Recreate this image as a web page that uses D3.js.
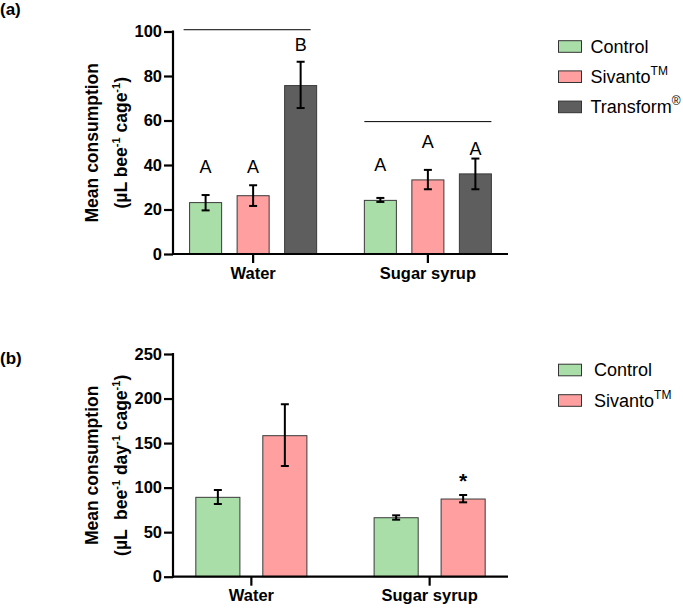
<!DOCTYPE html>
<html><head><meta charset="utf-8">
<script src="https://cdn.jsdelivr.net/npm/d3@7"></script>
<style>
body{margin:0;background:#fff;}
text{font-family:Arial,"Liberation Sans",sans-serif;white-space:pre;}
</style></head>
<body>
<svg id="chart" width="683" height="608"></svg>
<script>
// ---- Panel (a) data ----
const groupsA = ["Water", "Sugar syrup"];
const seriesA = ["Control", "Sivanto", "Transform"];
const meanA = [[23.1, 26.2, 75.7], [24.1, 33.3, 36.0]];
const errLowA = [[19.6, 21.6, 65.6], [23.4, 29.1, 29.1]];
const errHighA = [[26.5, 30.9, 86.4], [25.2, 37.8, 42.9]];
const lettersA = [["A", "A", "B"], ["A", "A", "A"]];
const letterValA = [[38.7, 38.7, 93.5], [39.5, 50, 46.7]];
const sigLineA = [100.8, 59.5];
const ticksA = [0, 20, 40, 60, 80, 100];

// ---- Panel (b) data ----
const groupsB = ["Water", "Sugar syrup"];
const seriesB = ["Control", "Sivanto"];
const meanB = [[89.1, 158.3], [66.2, 87.2]];
const errLowB = [[81.6, 124.3], [64.0, 83.5]];
const errHighB = [[97.3, 193.6], [68.9, 91.7]];
const starB = [[null, null], [null, "*"]];
const starValB = [[0, 0], [0, 106]];
const ticksB = [0, 50, 100, 150, 200, 250];

const colors = {Control: "#a9dea9", Sivanto: "#ff9f9f", Transform: "#5e5e5e"};
const legendNames = {Control: ["Control", ""], Sivanto: ["Sivanto", "TM"], Transform: ["Transform", "®"]};

const svg = d3.select("#chart");
const FONT = "Arial, 'Liberation Sans', sans-serif";

function panel(opt) {
  const g = svg.append("g");
  const y = d3.scaleLinear().domain(opt.domain).range([opt.y0, opt.y1]);
  const x0 = d3.scaleBand().domain(opt.groups).range([opt.x0, opt.x1]).paddingInner(opt.pin).paddingOuter(opt.pout);
  const x1 = d3.scaleBand().domain(opt.series).range([0, x0.bandwidth()]).paddingInner(opt.sp);

  opt.groups.forEach((gName, gi) => {
    opt.series.forEach((s, si) => {
      const bx = x0(gName) + x1(s);
      const bw = x1.bandwidth();
      g.append("rect")
        .attr("x", bx).attr("y", y(opt.mean[gi][si]))
        .attr("width", bw).attr("height", y(0) - y(opt.mean[gi][si]))
        .attr("fill", colors[s]).attr("stroke", "#3a3a3a").attr("stroke-width", 1);
      const cx = bx + bw / 2;
      const hi = y(opt.hi[gi][si]), lo = y(opt.lo[gi][si]);
      g.append("line").attr("x1", cx).attr("x2", cx).attr("y1", hi).attr("y2", lo).attr("stroke", "#000").attr("stroke-width", 2);
      [hi, lo].forEach(v => g.append("line").attr("x1", cx - 4).attr("x2", cx + 4).attr("y1", v).attr("y2", v).attr("stroke", "#000").attr("stroke-width", 2));
      if (opt.labels && opt.labels[gi][si]) {
        g.append("text").attr("x", cx).attr("y", y(opt.labelVal[gi][si]))
          .attr("text-anchor", "middle").attr("font-size", opt.labelSize)
          .attr("font-weight", opt.labelWeight || "normal")
          .attr("dominant-baseline", "middle").text(opt.labels[gi][si]);
      }
    });
    if (opt.sig) {
      const off = gi === 0 ? -6 : 0;
      g.append("line").attr("x1", x0(gName) + off).attr("x2", x0(gName) + x0.bandwidth() + off)
        .attr("y1", y(opt.sig[gi])).attr("y2", y(opt.sig[gi])).attr("stroke", "#000").attr("stroke-width", 1);
    }
  });

  // y axis
  const ya = g.append("g").attr("transform", `translate(${opt.x0},0)`)
    .call(d3.axisLeft(y).tickValues(opt.ticks).tickSize(9).tickPadding(2));
  ya.select(".domain").attr("stroke-width", 2.2).attr("d", `M0,${opt.y1 - 1}V${opt.y0 + 1}`);
  ya.selectAll(".tick line").attr("stroke-width", 2.2);
  ya.selectAll(".tick text").attr("font-size", 16.5).attr("font-weight", "bold").attr("font-family", FONT).attr("fill", "#000");

  // x axis
  const xa = g.append("g").attr("transform", `translate(0,${opt.y0})`)
    .call(d3.axisBottom(x0).tickSize(9).tickPadding(4).tickSizeOuter(0));
  xa.select(".domain").attr("stroke-width", 2.2).attr("d", `M${opt.x0},0H${opt.x1}`);
  xa.selectAll(".tick line").attr("stroke-width", 2.2);
  xa.selectAll(".tick text").attr("font-size", 16.5).attr("font-weight", "bold").attr("font-family", FONT).attr("fill", "#000");

  // y label
  const cy = (opt.y0 + opt.y1) / 2;
  const lab = g.append("g").attr("transform", `translate(${opt.labX},${cy}) rotate(-90)`);
  lab.append("text").attr("text-anchor", "middle").attr("y", 6)
    .attr("font-size", 17.5).attr("font-weight", "bold").text("Mean consumption");
  const l2 = lab.append("text").attr("y", 35).attr("font-size", 17.5).attr("font-weight", "bold");
  opt.unitParts.forEach((p, i) => {
    const ts = l2.append("tspan").text(p.t);
    if (p.sup) ts.attr("font-size", 11).attr("dy", -7);
    else if (i > 0) ts.attr("dy", 7);
  });
  const w = l2.node().getComputedTextLength();
  l2.attr("x", -w / 2);

  // panel label
  svg.append("text").attr("x", 0).attr("y", opt.panelY).attr("font-size", 17).attr("font-weight", "bold").text(opt.panel);

  // legend
  opt.series.forEach((s, i) => {
    const ly = opt.legY + i * opt.legStep;
    svg.append("rect").attr("x", 558.5).attr("y", ly - 5.8).attr("width", 23).attr("height", 11.6)
      .attr("fill", colors[s]).attr("stroke", "#333").attr("stroke-width", 1);
    const t = svg.append("text").attr("x", opt.legTextX).attr("y", ly).attr("dy", "0.36em").attr("font-size", 18);
    t.append("tspan").text(legendNames[s][0]);
    if (legendNames[s][1]) t.append("tspan").attr("font-size", 12).attr("dy", -8).text(legendNames[s][1]);
  });
}

panel({
  groups: groupsA, series: seriesA, mean: meanA, lo: errLowA, hi: errHighA,
  labels: lettersA, labelVal: letterValA, labelSize: 18, sig: sigLineA,
  domain: [0, 100], ticks: ticksA, y0: 254, y1: 31.5, x0: 173, x1: 508,
  pin: 0.273, pout: 0.095, sp: 0.326,
  labX: 92,
  unitParts: [{t: "(µL bee"}, {t: "-1", sup: true}, {t: " cage"}, {t: "-1", sup: true}, {t: ")"}],
  panel: "(a)", panelY: 15, legY: 46.5, legStep: 30.2, legTextX: 590.5
});

panel({
  groups: groupsB, series: seriesB, mean: meanB, lo: errLowB, hi: errHighB,
  labels: starB, labelVal: starValB, labelSize: 21, labelWeight: "bold",
  domain: [0, 250], ticks: ticksB, y0: 576.7, y1: 354, x0: 173, x1: 508,
  pin: 0.377, pout: 0.128, sp: 0.342,
  labX: 92,
  unitParts: [{t: "(µL  bee"}, {t: "-1", sup: true}, {t: " day"}, {t: "-1", sup: true}, {t: " cage"}, {t: "-1", sup: true}, {t: ")"}],
  panel: "(b)", panelY: 364, legY: 370, legStep: 30.5, legTextX: 594
});
</script>
</body></html>
